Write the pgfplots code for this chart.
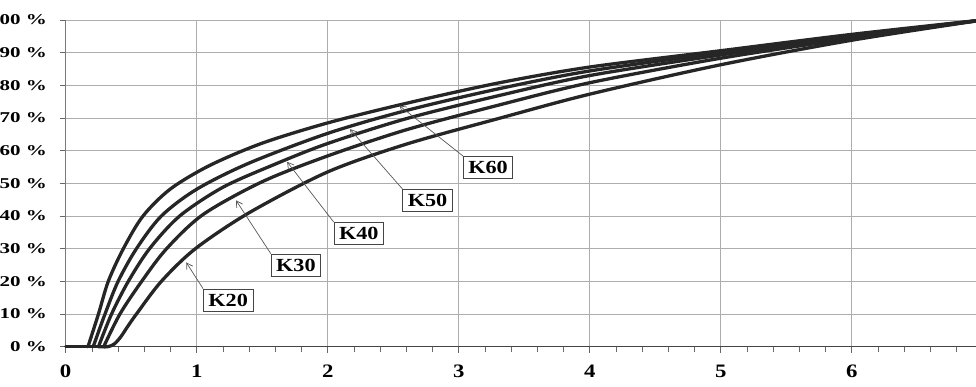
\documentclass[border=0pt]{standalone}
\usepackage{fontspec}
\setmainfont{Liberation Serif}[FakeStretch=1.2]
\newfontfamily\ylabfont{Liberation Serif}[FakeStretch=1.4]
\usepackage{pgfplots}
\pgfplotsset{compat=1.18}
\usetikzlibrary{arrows.meta,calc}
\definecolor{curve}{HTML}{262626}
\definecolor{gridc}{HTML}{ADADAD}
\begin{document}
\begin{tikzpicture}
\begin{axis}[
  scale only axis, width=917pt, height=326.7pt,
  xmin=0, xmax=7, ymin=0, ymax=100,
  axis x line*=bottom, axis y line*=left,
  xtick={0,1,...,7}, ytick={0,10,...,100},
  minor x tick num=4,
  tick align=outside,
  major tick length=6pt, minor tick length=5pt,
  tick style={gridc!60!black, line width=0.7pt},
  grid=major, major grid style={gridc, line width=0.75pt},
  axis line style={gridc!70!black, line width=0.8pt},
  x axis line style={gridc!40!black, line width=1.2pt},
  /pgf/number format/assume math mode=true,
  yticklabel={\pgfmathprintnumber{\tick}~\%},
  yticklabel style={anchor=east, inner sep=0pt, xshift=-12.5pt, font=\ylabfont\fontsize{15}{16}\selectfont\bfseries},
  xticklabel style={anchor=north, inner sep=0pt, yshift=-12pt, font=\fontsize{19}{20}\selectfont\bfseries},
  clip=false,
  every axis plot/.append style={draw=curve, line width=3.3pt, line join=round, line cap=round},
]
\coordinate (O) at (axis cs:0,0);
% flat part on the base line
\addplot[draw=curve] coordinates {(0,0) (0.32,0)};
% K60
\addplot[draw=curve, smooth, tension=0.5] coordinates {(0.17,0) (0.25,10) (0.325,20) (0.44,30) (0.59,40) (0.8,48.3) (1.1,55.5) (1.5,62.3) (2,68.5) (2.6,74.5) (3.3,80.7) (4,85.6) (5,90.6) (6,95.6) (7,100)};
% K50
\addplot[draw=curve, smooth, tension=0.5] coordinates {(0.21,0) (0.30,10) (0.40,20) (0.54,30) (0.73,40) (1.0,48.2) (1.4,56.2) (2,65.3) (2.6,72.3) (3.3,78.9) (4,84.4) (5,90) (6,95.2) (7,100)};
% K40
\addplot[draw=curve, smooth, tension=0.5] coordinates {(0.25,0) (0.35,10) (0.478,20) (0.64,30) (0.87,40) (1.2,48.8) (1.6,55.9) (2,62.2) (2.6,69.8) (3.3,76.8) (4,83) (5,89.3) (6,94.9) (7,100)};
% K30
\addplot[draw=curve, smooth, tension=0.5] coordinates {(0.29,0) (0.414,10) (0.58,20) (0.77,30) (1.05,40.5) (1.5,50.5) (2,58.4) (2.6,66.4) (3.3,73.9) (4,80.8) (5,88.3) (6,94.4) (7,100)};
% K20
\addplot[draw=curve, smooth, tension=0.5] coordinates {(0.25,0) (0.32,0) (0.37,0.8) (0.42,3) (0.47,6) (0.54,10) (0.73,20) (0.99,30) (1.4,41) (2,53.5) (2.6,62) (3.3,69.8) (4,77.3) (5,86.3) (6,93.8) (7,100)};

\tikzset{lab/.style={draw=gridc!40!black, line width=0.7pt, fill=white, inner xsep=5pt, inner ysep=0pt, minimum height=22pt, font=\fontsize{18.5}{19}\selectfont\bfseries},
  arr/.style={draw=gridc!50!black, line width=0.7pt, -{Straight Barb[length=6pt,width=7pt]}}}
\node[lab] (K20) at (axis cs:1.24,14.3) {K20};
\node[lab] (K30) at (axis cs:1.757,25) {K30};
\node[lab] (K40) at (axis cs:2.237,34.7) {K40};
\node[lab] (K50) at (axis cs:2.762,44.8) {K50};
\node[lab] (K60) at (axis cs:3.224,54.9) {K60};
\draw[arr] (K20.north west) -- (axis cs:0.92,25.8);
\draw[arr] (K30.north west) -- (axis cs:1.30,44.8);
\draw[arr] (K40.north west) -- (axis cs:1.69,56.6);
\draw[arr] (K50.north west) -- (axis cs:2.17,66.6);
\draw[arr] (K60.north west) -- (axis cs:2.547,73.8);
\end{axis}
\pgfresetboundingbox
\path[use as bounding box] ($(O)+(-65.7pt,-39.3pt)$) rectangle ($(O)+(910.3pt,346.7pt)$);
\end{tikzpicture}
\end{document}
